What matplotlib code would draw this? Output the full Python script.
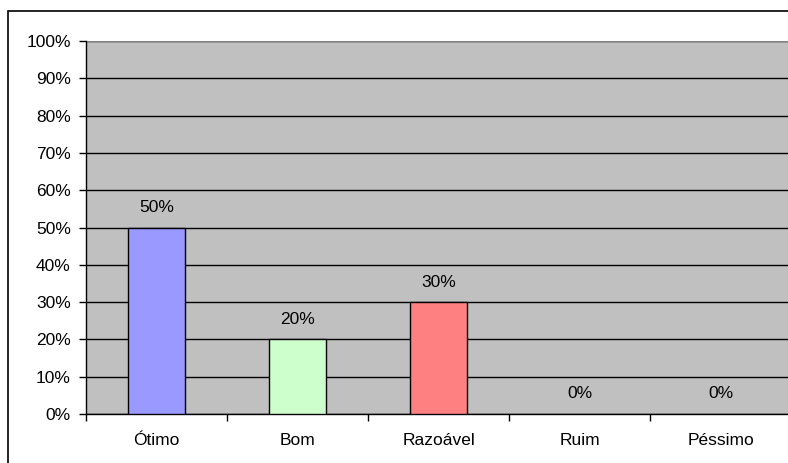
import matplotlib
matplotlib.use("Agg")
import matplotlib.pyplot as plt
from matplotlib.patches import Rectangle
from matplotlib.ticker import FixedLocator, PercentFormatter

plt.rcParams['font.family'] = ['Liberation Sans', 'DejaVu Sans']

categories = ["Ótimo", "Bom", "Razoável", "Ruim", "Péssimo"]
values = [50, 20, 30, 0, 0]
colors = ["#9999FF", "#CCFFCC", "#FF8080", "#9999FF", "#9999FF"]
y_ticks = list(range(0, 101, 10))

W, H = 788, 463
FS = 12.5
fig = plt.figure(figsize=(W / 100, H / 100), dpi=100)
fig.patch.set_facecolor("white")

# outer chart frame
frame = Rectangle((8 / W, -0.1), 1.2, 1 - 11 / H + 0.1, transform=fig.transFigure,
                  fill=False, edgecolor="black", linewidth=1.2, clip_on=False)
fig.patches.append(frame)

ax = fig.add_axes([86 / W, 49 / H, 705 / W, 373 / H])
ax.set_facecolor("#C0C0C0")

x = list(range(len(categories)))
shown = [i for i, v in enumerate(values) if v > 0]
ax.bar([x[i] for i in shown], [values[i] for i in shown], width=0.4,
       color=[colors[i] for i in shown], edgecolor="black", linewidth=1.0, zorder=3)

ax.set_xlim(-0.5, len(categories) - 0.5)
ax.set_ylim(0, 100)
ax.yaxis.set_major_locator(FixedLocator(y_ticks))
ax.yaxis.set_major_formatter(PercentFormatter(decimals=0))
ax.grid(axis="y", color="black", linewidth=1.0, zorder=1)
ax.set_axisbelow(True)
# plot-area top edge is drawn in grey
ax.axhline(100, color="#808080", linewidth=1.5, zorder=2)

ax.set_xticks(x)
ax.set_xticklabels(categories)
ax.tick_params(axis="x", length=0, pad=14, labelsize=FS)
ax.set_xticks([i + 0.5 for i in range(-1, len(categories))], minor=True)
ax.tick_params(axis="x", which="minor", length=5, width=1, direction="out")
ax.tick_params(axis="y", length=5, width=1, direction="out", pad=6, labelsize=FS)

for side in ("top", "right"):
    ax.spines[side].set_visible(False)
ax.spines["left"].set_linewidth(1.0)
ax.spines["bottom"].set_linewidth(1.0)

for xi, v in zip(x, values):
    ax.annotate(f"{v}%", (xi, v), xytext=(0, 9), textcoords="offset points",
                ha="center", va="bottom", fontsize=FS, zorder=4)

fig.savefig("out.png", dpi=100)
